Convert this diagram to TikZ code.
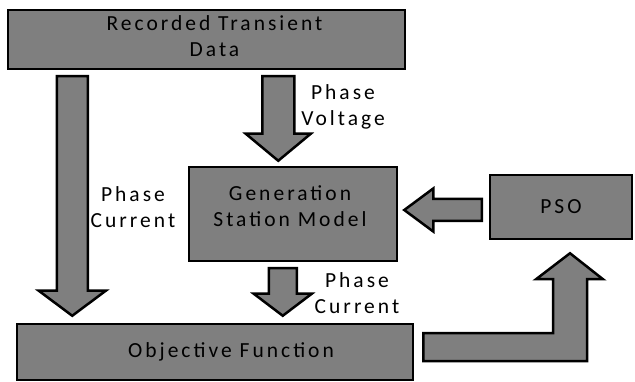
\documentclass[tikz,border=0pt]{standalone}
\usepackage{fontspec}
\setmainfont{Carlito}[LetterSpace=14.0]
\usepackage{tikz}
\usetikzlibrary{calc, positioning}

\definecolor{boxgray}{RGB}{127,127,127}

% block arrow pointing down: top, tip, shaft half width, head half width, head length
\newcommand{\blockdown}[5]{%
  \draw[fat] ($(#1)+(-#3,0)$) -- ($(#2)+(-#3,-#5)$) -- ($(#2)+(-#4,-#5)$) -- (#2)
    -- ($(#2)+(#4,-#5)$) -- ($(#2)+(#3,-#5)$) -- ($(#1)+(#3,0)$) -- cycle;}

\begin{document}
\begin{tikzpicture}[x=1pt, y=-1pt,
    blk/.style={draw, line width=2.5pt, fill=boxgray, align=center, inner sep=0pt,
                font=\fontsize{21.5}{26}\selectfont},
    fat/.style={draw, line width=2.5pt, fill=boxgray, line join=miter},
    lbl/.style={align=center, inner sep=0pt, font=\fontsize{21.5}{26}\selectfont}]
    \useasboundingbox (0,0) rectangle (635,382);

    % Blocks
    \node[blk, minimum width=397pt, minimum height=59pt] (rec) at (206.5,39.5) {};
    \node[lbl] (rectext) at ($(rec)+(8,-3)$) {Recorded Transient\\Data};
    \node[blk, minimum width=208pt, minimum height=94pt] (gen) at (293,214) {};
    \node[lbl] (gentext) at ($(gen)+(-3,-8)$) {Generation\\Station Model};
    \node[blk, minimum width=142pt, minimum height=64pt] (pso) at (561,207) {PSO};
    \node[blk, minimum width=396pt, minimum height=56pt] (obj) at (215,352) {};
    \node[lbl] (objtext) at ($(obj)+(16,0)$) {Objective Function};

    % Recorded data -> objective function
    \coordinate (a1top) at ($(rec.south west)+(65.5,6)$);
    \coordinate (a1tip) at ($(a1top |- obj.north)+(0,-7)$);
    \blockdown{a1top}{a1tip}{15.5}{33.5}{25}

    % Recorded data -> generation model
    \coordinate (a2top) at ($(rec.south west)+(271.5,6)$);
    \coordinate (a2tip) at ($(a2top |- gen.north)+(0,-5)$);
    \blockdown{a2top}{a2tip}{16}{32.5}{27}

    % Generation model -> objective function
    \coordinate (a3top) at ($(gen.south west)+(95,6)$);
    \coordinate (a3tip) at ($(a3top |- obj.north)+(0,-7)$);
    \blockdown{a3top}{a3tip}{14}{29}{22}

    % PSO -> generation model
    \coordinate (a4tip) at ($(gen.east)+(6,-4)$);
    \coordinate (a4end) at ($(a4tip -| pso.west)+(-7,0)$);
    \draw[fat] ($(a4end)+(0,-11)$) -- ($(a4tip)+(29,-11)$) -- ($(a4tip)+(29,-21.5)$) -- (a4tip)
      -- ($(a4tip)+(29,21.5)$) -- ($(a4tip)+(29,11)$) -- ($(a4end)+(0,11)$) -- cycle;

    % Objective function -> PSO
    \coordinate (a5start) at ($(obj.east)+(9,-5)$);
    \coordinate (a5tip) at ($(pso.south)+(9,13)$);
    \draw[fat] ($(a5start)+(0,-14)$) -- ($(a5start -| a5tip)+(-17,-14)$) -- ($(a5tip)+(-17,26)$)
      -- ($(a5tip)+(-34,26)$) -- (a5tip) -- ($(a5tip)+(33,26)$) -- ($(a5tip)+(17,26)$)
      -- ($(a5start -| a5tip)+(17,14)$) -- ($(a5start)+(0,14)$) -- cycle;

    % Labels
    \node[lbl] (lblv) at (343,107) {Phase\\Voltage};
    \node[lbl] (lblcl) at (133,207) {Phase\\Current};
    \node[lbl] (lblcb) at (357,293) {Phase\\Current};
\end{tikzpicture}
\end{document}
